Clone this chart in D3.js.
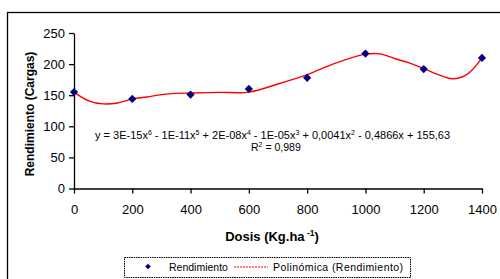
<!DOCTYPE html>
<html>
<head>
<meta charset="utf-8">
<script src="https://cdn.jsdelivr.net/npm/d3@7"></script>
<style>
  body { margin: 0; background: #fff; }
  svg { display: block; font-family: "Liberation Sans", Arial, sans-serif; }
</style>
</head>
<body>
<div id="chart"></div>
<script>
// dosis and rendimiento
const dosis = [0, 200, 400, 600, 800, 1000, 1200, 1400]
const rendimiento = [155, 144, 151, 160, 178, 217, 192, 210]

// trend line (polinómica)
const trendX = [0, 50, 100, 150, 200, 250, 300, 350, 400, 500, 600, 700, 800, 900, 1000, 1050, 1100, 1150, 1200, 1250, 1300, 1350, 1400]
const trendY = [155, 141, 136, 137.5, 144, 147, 151, 153, 153.5, 154.5, 155, 168, 183, 202, 216, 216.5, 209, 202, 193, 183, 176.5, 184, 210]

const xTicks = [0, 200, 400, 600, 800, 1000, 1200, 1400]
const yTicks = [0, 50, 100, 150, 200, 250]

const width = 500
const height = 279

const svg = d3.select('#chart')
  .append('svg')
  .attr('width', width)
  .attr('height', height)

// outer frame of the chart area
svg.append('rect')
  .attr('x', 7.5)
  .attr('y', 12.5)
  .attr('width', 520)
  .attr('height', 300)
  .attr('fill', 'none')
  .attr('stroke', '#000')
  .attr('stroke-width', 1.3)

const xScale = d3.scaleLinear()
  .domain([0, 1400])
  .range([74, 482])
const yScale = d3.scaleLinear()
  .domain([0, 250])
  .range([188.5, 33])

const xAxis = d3.axisBottom(xScale)
  .tickValues(xTicks)
  .tickFormat(d3.format('d'))
  .tickSize(5)
  .tickSizeOuter(0)
const yAxis = d3.axisLeft(yScale)
  .tickValues(yTicks)
  .tickSize(5)
  .tickSizeOuter(0)

const xAxisG = svg.append('g')
  .attr('transform', `translate(0,${yScale(0)})`)
  .call(xAxis)
xAxisG.selectAll('text')
  .attr('font-size', 13)
  .attr('font-family', '"Liberation Sans", Arial, sans-serif')
  .attr('fill', '#000')
  .attr('dy', '1.35em')
xAxisG.selectAll('line, path').attr('stroke', '#000').attr('stroke-width', 1.3)

const yAxisG = svg.append('g')
  .attr('transform', `translate(${xScale(0)},0)`)
  .call(yAxis)
yAxisG.selectAll('text')
  .attr('font-size', 13)
  .attr('font-family', '"Liberation Sans", Arial, sans-serif')
  .attr('fill', '#000')
  .attr('x', -9)
yAxisG.selectAll('line, path').attr('stroke', '#000').attr('stroke-width', 1.3)

// trend line
const trend = trendX.map((x, i) => ({x: x, y: trendY[i]}))
const line = d3.line()
  .x(d => xScale(d.x))
  .y(d => yScale(d.y))
  .curve(d3.curveCatmullRom.alpha(0.5))

svg.append('path')
  .datum(trend)
  .attr('fill', 'none')
  .attr('stroke', '#ff0000')
  .attr('stroke-width', 1.4)
  .attr('d', line)

// points (square turned 45 degrees)
const diamond = d3.symbol().type(d3.symbolSquare).size(34)
svg.selectAll('.punto')
  .data(dosis.map((x, i) => ({x: x, y: rendimiento[i]})))
  .join('path')
  .attr('class', 'punto')
  .attr('d', diamond)
  .attr('transform', d => `translate(${xScale(d.x)},${yScale(d.y)}) rotate(45)`)
  .attr('fill', '#000080')

// equation
svg.append('text')
  .attr('x', 95)
  .attr('y', 139)
  .attr('font-size', 11)
  .html('y = 3E-15x<tspan dy="-4" font-size="7">6</tspan><tspan dy="4"> - 1E-11x</tspan><tspan dy="-4" font-size="7">5</tspan><tspan dy="4"> + 2E-08x</tspan><tspan dy="-4" font-size="7">4</tspan><tspan dy="4"> - 1E-05x</tspan><tspan dy="-4" font-size="7">3</tspan><tspan dy="4"> + 0,0041x</tspan><tspan dy="-4" font-size="7">2</tspan><tspan dy="4"> - 0,4866x + 155,63</tspan>')
svg.append('text')
  .attr('x', 251)
  .attr('y', 151)
  .attr('font-size', 10.5)
  .html('R<tspan dy="-4" font-size="7">2</tspan><tspan dy="4"> = 0,989</tspan>')

// axis titles
svg.append('text')
  .attr('x', 272)
  .attr('y', 241)
  .attr('text-anchor', 'middle')
  .attr('font-size', 13)
  .attr('font-weight', 'bold')
  .html('Dosis (Kg.ha<tspan dy="-5" font-size="8.5"> -1</tspan><tspan dy="5">)</tspan>')

svg.append('text')
  .attr('transform', 'translate(34,114) rotate(-90)')
  .attr('text-anchor', 'middle')
  .attr('font-size', 12)
  .attr('font-weight', 'bold')
  .text('Rendimiento (Cargas)')

// legend
const legend = svg.append('g')
legend.append('rect')
  .attr('x', 124.5)
  .attr('y', 257.5)
  .attr('width', 286)
  .attr('height', 20)
  .attr('fill', '#fff')
  .attr('stroke', '#000')
  .attr('stroke-width', 1)
  .attr('stroke-dasharray', '1.5,0.8')
legend.append('path')
  .attr('d', d3.symbol().type(d3.symbolSquare).size(16))
  .attr('transform', 'translate(148,266.5) rotate(45)')
  .attr('fill', '#000080')
legend.append('text')
  .attr('x', 169)
  .attr('y', 270.5)
  .attr('font-size', 10.5)
  .text('Rendimiento')
legend.append('line')
  .attr('x1', 234)
  .attr('x2', 268)
  .attr('y1', 267)
  .attr('y2', 267)
  .attr('stroke', '#ff0000')
  .attr('stroke-width', 1.2)
  .attr('stroke-dasharray', '2,1')
legend.append('text')
  .attr('x', 273)
  .attr('y', 270.5)
  .attr('font-size', 10.5)
  .attr('textLength', 130)
  .text('Polinómica (Rendimiento)')
</script>
</body>
</html>
